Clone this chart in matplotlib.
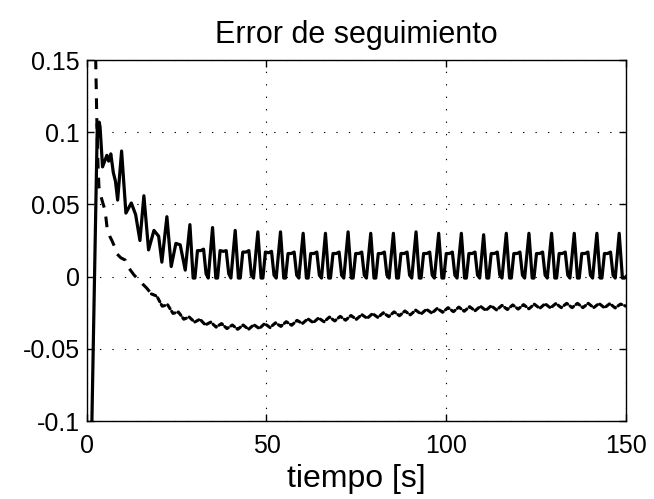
import matplotlib
matplotlib.use("Agg")
import matplotlib.pyplot as plt

# tracking error, solid curve
solid_t = [
    1.0, 2.95, 3.15, 3.45, 3.7, 4.4, 5.0, 5.6, 6.1, 6.7, 7.4, 8.0, 8.6, 9.7,
    10.9, 12.4, 13.6, 14.8, 15.9, 17.2, 18.7, 20.0, 20.9, 22.3, 23.5, 24.8, 26.0, 27.4,
    28.7, 29.6, 30.1, 30.8, 31.7, 32.5, 33.2, 33.8,
    35.0, 35.9, 36.4, 37.1, 38.0, 38.8, 39.5, 40.1,
    41.3, 42.2, 42.7, 43.4, 44.3, 45.1, 45.8, 46.4,
    47.6, 48.5, 49.0, 49.7, 50.6, 51.4, 52.1, 52.7,
    53.9, 54.8, 55.3, 56.0, 56.9, 57.7, 58.4, 59.0,
    60.2, 61.1, 61.6, 62.3, 63.2, 64.0, 64.7, 65.3,
    66.4, 67.3, 67.8, 68.5, 69.4, 70.2, 70.9, 71.5,
    72.7, 73.6, 74.1, 74.8, 75.7, 76.5, 77.2, 77.8,
    79.0, 79.9, 80.4, 81.1, 82.0, 82.8, 83.5, 84.1,
    85.3, 86.2, 86.7, 87.4, 88.3, 89.1, 89.8, 90.4,
    91.6, 92.5, 93.0, 93.7, 94.6, 95.4, 96.1, 96.7,
    97.9, 98.8, 99.3, 100.0, 100.9, 101.7, 102.4, 103.0,
    104.2, 105.1, 105.6, 106.3, 107.2, 108.0, 108.7, 109.3,
    110.4, 111.3, 111.8, 112.5, 113.4, 114.2, 114.9, 115.5,
    116.7, 117.6, 118.1, 118.8, 119.7, 120.5, 121.2, 121.8,
    123.0, 123.9, 124.4, 125.1, 126.0, 126.8, 127.5, 128.1,
    129.3, 130.2, 130.7, 131.4, 132.3, 133.1, 133.8, 134.4,
    135.6, 136.5, 137.0, 137.7, 138.6, 139.4, 140.1, 140.7,
    141.9, 142.8, 143.3, 144.0, 144.9, 145.7, 146.4, 147.0,
    148.1, 149.0, 149.6, 150.0,
]
solid_y = [
    -0.16, 0.106, 0.097, 0.107, 0.104, 0.076, 0.080, 0.084, 0.080, 0.085, 0.072, 0.066, 0.053, 0.087,
    0.044, 0.051, 0.043, 0.025, 0.056, 0.0185, 0.032, 0.028, 0.010, 0.0415, 0.007, 0.023, 0.022, 0.0045,
    0.036, -0.001, -0.001, 0.018, 0.018, 0.019, 0.002, -0.001,
    0.034, -0.001, -0.001, 0.018, 0.0175, 0.018, 0.002, -0.001,
    0.032, -0.001, -0.001, 0.017, 0.017, 0.018, 0.001, -0.001,
    0.031, -0.001, -0.001, 0.017, 0.0165, 0.0175, 0.001, -0.001,
    0.031, -0.001, -0.001, 0.016, 0.016, 0.017, 0.001, -0.001,
    0.030, -0.001, -0.001, 0.016, 0.016, 0.017, 0.001, -0.001,
    0.030, -0.001, -0.001, 0.016, 0.016, 0.017, 0.001, -0.001,
    0.031, -0.001, -0.001, 0.016, 0.016, 0.017, 0.001, -0.001,
    0.030, -0.001, -0.001, 0.016, 0.016, 0.017, 0.001, -0.001,
    0.030, -0.001, -0.001, 0.016, 0.016, 0.017, 0.001, -0.001,
    0.031, -0.001, -0.001, 0.016, 0.016, 0.017, 0.001, -0.001,
    0.030, -0.001, -0.001, 0.016, 0.016, 0.017, 0.001, -0.001,
    0.030, -0.001, -0.001, 0.016, 0.016, 0.017, 0.001, -0.001,
    0.029, -0.001, -0.001, 0.016, 0.016, 0.017, 0.001, -0.001,
    0.030, -0.001, -0.001, 0.016, 0.016, 0.017, 0.001, -0.001,
    0.030, -0.001, -0.001, 0.016, 0.016, 0.017, 0.001, -0.001,
    0.030, -0.001, -0.001, 0.016, 0.016, 0.017, 0.001, -0.001,
    0.030, -0.001, -0.001, 0.016, 0.016, 0.017, 0.001, -0.001,
    0.030, -0.001, -0.001, 0.016, 0.016, 0.017, 0.001, -0.001,
    0.030, -0.001, -0.001, 0.000,
]

# dashed curve
dashed_t = [
    2.3, 2.5, 2.8, 3.1, 3.4, 3.9, 4.6, 5.1, 5.7, 6.4, 7.0, 7.7, 8.3, 9.5,
    10.7, 11.4, 12.0, 13.2, 14.4, 15.5, 16.7, 18.0,
    19.5, 21, 22.5, 24, 25.5, 27, 28.5, 30, 31.5, 33, 34.5, 36, 37.5, 39,
    40.5, 42, 43.5, 45, 46.5, 48, 49.5, 51, 52.5, 54, 55.5, 57, 58.5, 60,
    61.5, 63, 64.5, 66, 67.5, 69, 70.5, 72, 73.5, 75, 76.5, 78, 79.5, 81,
    82.5, 84, 85.5, 87, 88.5, 90, 91.5, 93, 94.5, 96, 97.5, 99, 100.5, 102,
    103.5, 105, 106.5, 108, 109.5, 111, 112.5, 114, 115.5, 117, 118.5, 120,
    121.5, 123, 124.5, 126, 127.5, 129, 130.5, 132, 133.5, 135, 136.5, 138,
    139.5, 141, 142.5, 144, 145.5, 147, 148.5, 150,
]
dashed_y = [
    0.3, 0.15, 0.11, 0.08, 0.062, 0.056, 0.050, 0.046, 0.033, 0.028, 0.025, 0.021, 0.016, 0.013,
    0.0115, 0.007, 0.005, 0.001, -0.002, -0.005, -0.008, -0.012,
    -0.0135, -0.0205, -0.0195, -0.0255, -0.0245, -0.0295, -0.028, -0.0315, -0.0295, -0.0335,
    -0.0315, -0.035, -0.0325, -0.036, -0.0335, -0.0365, -0.0335, -0.0365, -0.0333, -0.036,
    -0.0325, -0.0353, -0.032, -0.0345, -0.0312, -0.0337, -0.0303, -0.0325, -0.0292, -0.0319,
    -0.0286, -0.0313, -0.028, -0.0307, -0.0275, -0.0302, -0.0269, -0.0296, -0.0263, -0.0289,
    -0.0256, -0.0283, -0.025, -0.0277, -0.0244, -0.0271, -0.0238, -0.0265, -0.0232, -0.0259,
    -0.0226, -0.0253, -0.022, -0.0247, -0.0215, -0.0243, -0.0211, -0.024, -0.0208, -0.0237,
    -0.0205, -0.0234, -0.0202, -0.0231, -0.0199, -0.0228, -0.0196, -0.0225, -0.0194, -0.0223,
    -0.0191, -0.022, -0.0188, -0.0217, -0.0186, -0.0215, -0.0185, -0.0215, -0.0185, -0.0215,
    -0.0185, -0.0215, -0.0186, -0.0216, -0.0187, -0.0217, -0.019, -0.0205,
]
dash_split = 21  # index of t=18.0, where the dash pattern gets denser

xticks = [0, 50, 100, 150]
xtick_labels = ["0", "50", "100", "150"]
yticks = [-0.1, -0.05, 0, 0.05, 0.1, 0.15]
ytick_labels = ["-0.1", "-0.05", "0", "0.05", "0.1", "0.15"]

plt.rcParams['font.family'] = ['Liberation Sans', 'DejaVu Sans']

fig = plt.figure(figsize=(6.54, 4.99), dpi=100)
ax = fig.add_axes([0.1326, 0.1563, 0.8246, 0.7234])

ax.plot(solid_t, solid_y, color='black', lw=2.3, solid_joinstyle='round')
ax.plot(dashed_t[:dash_split + 1], dashed_y[:dash_split + 1], color='black', lw=2.2,
        linestyle=(0, (3.5, 3.0)), dash_capstyle='butt')
ax.plot(dashed_t[dash_split:], dashed_y[dash_split:], color='black', lw=2.2,
        linestyle=(0, (1.5, 1.0)), dash_capstyle='round')

ax.set_xlim(0, 150)
ax.set_ylim(-0.1, 0.15)
ax.set_xticks(xticks)
ax.set_xticklabels(xtick_labels)
ax.set_yticks(yticks)
ax.set_yticklabels(ytick_labels)

ax.grid(True, color='black', linestyle=(0, (1.2, 10)), linewidth=0.8)
ax.tick_params(direction='in', length=5, width=1, top=True, right=True, labelsize=18)
ax.tick_params(axis='x', pad=9)
ax.tick_params(axis='y', pad=5)
for s in ax.spines.values():
    s.set_linewidth(1.0)

ax.set_title("Error de seguimiento", fontsize=22, pad=12)
ax.set_xlabel("tiempo [s]", fontsize=23, labelpad=5)

fig.savefig("out.png", dpi=100)
